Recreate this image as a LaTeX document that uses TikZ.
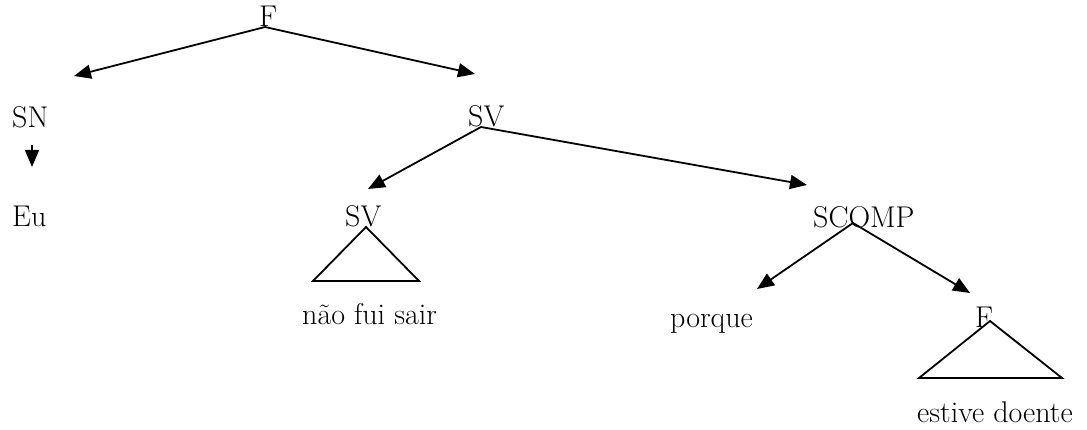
\documentclass[tikz,border=0pt]{standalone}
\usetikzlibrary{arrows.meta}
\begin{document}
\begin{tikzpicture}[x=1pt,y=-1pt,
  lab/.style={anchor=base west,inner sep=0pt,font=\fontsize{30}{36}\selectfont},
  arr/.style={line width=1.8pt,-{Triangle[length=17pt,width=14pt]}},
  tri/.style={line width=1.8pt,line join=miter}]
\useasboundingbox (0,0) rectangle (1087,430);
% nodes
\node[lab] (F1) at (259,27) {F};
\node[lab] (SN) at (12,128) {SN};
\node[lab] (SVa) at (468,127) {SV};
\node[lab] (Eu) at (12,227) {Eu};
\node[lab] (SVb) at (345,227) {SV};
\node[lab] (SCOMP) at (813,228) {SCOMP};
\node[lab] (nao) at (302,325) {não fui sair};
\node[lab] (porque) at (670,327) {porque};
\node[lab] (F2) at (975,327) {F};
\node[lab] (estive) at (917,422) {estive doente};
% connector ends
\coordinate (F1b) at (265,27);
\coordinate (SVab) at (481,127);
\coordinate (SNb) at (32,145);
\coordinate (SCb) at (853,223);
\coordinate (tSN) at (74,76);
\coordinate (tSVa) at (475,74);
\coordinate (tEu) at (32,167);
\coordinate (tSVb) at (368,189);
\coordinate (tSC) at (807,185);
\coordinate (tpq) at (757,289);
\coordinate (tF2) at (970,293);
% connectors
\draw[arr] (F1b) -- (tSN);
\draw[arr] (F1b) -- (tSVa);
\draw[arr] (SNb) -- (tEu);
\draw[arr] (SVab) -- (tSVb);
\draw[arr] (SVab) -- (tSC);
\draw[arr] (SCb) -- (tpq);
\draw[arr] (SCb) -- (tF2);
% triangles
\coordinate (a1) at (366,227);
\coordinate (a2) at (990,321);
\draw[tri] (a1) -- ++(-53,54) -- ++(106,0) -- cycle;
\draw[tri] (a2) -- ++(-71,57) -- ++(143,0) -- cycle;
\end{tikzpicture}
\end{document}
